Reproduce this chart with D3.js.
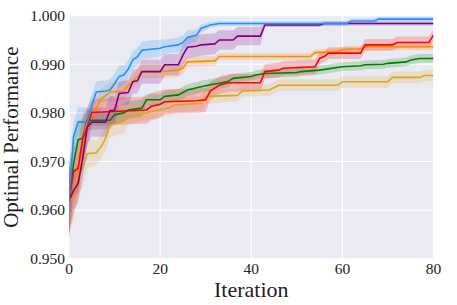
<!DOCTYPE html>
<html>
<head>
<meta charset="utf-8">
<script src="https://cdn.jsdelivr.net/npm/d3@7.9.0/dist/d3.min.js"></script>
<style>
  body { margin: 0; background: #fff; }
  svg { display: block; }
</style>
</head>
<body>
<div id="chart"></div>
<script>
// each row: [iteration, mean, std] -- only the iterations where something changes
const blueRuns = [
  [0, .9620, .0060], [1, .9751, .0030], [2, .9781, .0030], [4, .9781, .0030], [5, .9816, .0022],
  [6, .9843, .0022], [8, .9845, .0022], [9, .9847, .0022], [10, .9860, .0022], [11, .9875, .0022],
  [12, .9878, .0020], [13, .9890, .0018], [14, .9909, .0018], [15, .9915, .0018], [16, .9929, .0018],
  [20, .9933, .0018], [21, .9936, .0015], [24, .9940, .0015], [25, .9945, .0015], [26, .9955, .0015],
  [28, .9960, .0012], [29, .9974, .0008], [31, .9981, .0006], [33, .9984, .0005], [61, .9984, .0005],
  [62, .9989, .0005], [67, .9989, .0005], [68, .9993, .0005], [80, .9993, .0005]
];
const purpleRuns = [
  [0, .9620, .0070], [1, .9640, .0040], [2, .9655, .0040], [3, .9705, .0040], [4, .9771, .0035],
  [5, .9781, .0030], [8, .9781, .0030], [9, .9805, .0030], [10, .9805, .0030], [11, .9840, .0025],
  [13, .9842, .0025], [14, .9864, .0025], [15, .9866, .0025], [16, .9885, .0025], [20, .9885, .0025],
  [21, .9899, .0022], [24, .9899, .0022], [25, .9919, .0022], [26, .9935, .0022], [28, .9937, .0022],
  [29, .9940, .0022], [32, .9942, .0022], [33, .9950, .0020], [36, .9950, .0020], [37, .9958, .0019],
  [42, .9958, .0019], [43, .9981, .0004], [55, .9981, .0004], [56, .9984, .0004], [80, .9984, .0004]
];
const orangeRuns = [
  [0, .9620, .0060], [1, .9625, .0040], [2, .9670, .0040], [3, .9745, .0040], [4, .9780, .0030],
  [5, .9795, .0020], [6, .9810, .0020], [7, .9829, .0020], [8, .9835, .0020], [9, .9843, .0020],
  [12, .9845, .0018], [13, .9857, .0014], [14, .9864, .0014], [15, .9875, .0014], [16, .9885, .0014],
  [20, .9885, .0014], [24, .9888, .0014], [25, .9892, .0012], [26, .9905, .0010], [32, .9907, .0010],
  [33, .9916, .0007], [53, .9916, .0007], [54, .9924, .0007], [59, .9926, .0007], [60, .9930, .0007],
  [64, .9932, .0007], [65, .9936, .0007], [80, .9936, .0007]
];
const redRuns = [
  [0, .9620, .0080], [1, .9680, .0050], [2, .9685, .0050], [3, .9747, .0050], [4, .9771, .0040],
  [5, .9801, .0028], [17, .9806, .0028], [18, .9813, .0028], [20, .9818, .0028], [21, .9823, .0025],
  [28, .9825, .0025], [30, .9827, .0025], [31, .9845, .0018], [32, .9851, .0018], [33, .9857, .0018],
  [35, .9862, .0018], [42, .9862, .0018], [43, .9885, .0015], [46, .9888, .0015], [47, .9892, .0015],
  [54, .9895, .0015], [55, .9912, .0012], [56, .9916, .0012], [57, .9923, .0012], [64, .9923, .0012],
  [65, .9940, .0012], [71, .9940, .0012], [72, .9945, .0012], [79, .9945, .0012], [80, .9960, .0012]
];
const greenRuns = [
  [0, .9620, .0070], [1, .9695, .0040], [2, .9745, .0040], [3, .9748, .0040], [4, .9785, .0020],
  [9, .9785, .0018], [10, .9796, .0018], [12, .9800, .0018], [13, .9806, .0018], [16, .9810, .0018],
  [17, .9827, .0012], [20, .9827, .0012], [21, .9834, .0012], [24, .9837, .0012], [26, .9847, .0012],
  [29, .9854, .0012], [31, .9858, .0012], [33, .9861, .0012], [35, .9865, .0012], [36, .9871, .0009],
  [40, .9875, .0009], [41, .9878, .0009], [43, .9881, .0009], [50, .9883, .0009], [51, .9885, .0009],
  [55, .9888, .0009], [60, .9895, .0009], [64, .9897, .0009], [65, .9899, .0009], [69, .9900, .0009],
  [70, .9902, .0009], [74, .9905, .0009], [75, .9909, .0009], [77, .9912, .0009], [80, .9912, .0009]
];
const goldRuns = [
  [0, .9620, .0070], [1, .9625, .0040], [2, .9675, .0040], [3, .9685, .0040], [4, .9716, .0030],
  [6, .9718, .0025], [7, .9730, .0025], [8, .9747, .0025], [9, .9775, .0025], [12, .9783, .0025],
  [13, .9792, .0015], [17, .9800, .0015], [18, .9803, .0015], [22, .9810, .0015], [23, .9816, .0015],
  [29, .9820, .0015], [30, .9834, .0015], [37, .9836, .0012], [38, .9845, .0012], [44, .9847, .0012],
  [45, .9852, .0012], [46, .9857, .0012], [59, .9857, .0012], [60, .9864, .0012], [70, .9864, .0012],
  [71, .9873, .0012], [77, .9873, .0012], [78, .9877, .0012], [80, .9877, .0012]
];

const seriesList = [
  { runs: goldRuns, color: '#DAA520' },
  { runs: greenRuns, color: '#008000' },
  { runs: orangeRuns, color: '#FF8C00' },
  { runs: redRuns, color: '#FF0000' },
  { runs: purpleRuns, color: '#800080' },
  { runs: blueRuns, color: '#1E90FF' }
];

const xTicks = [0, 20, 40, 60, 80];
const yTicks = [0.950, 0.960, 0.970, 0.980, 0.990, 1.000];

const width = 457, height = 305;
const margin = { top: 15.7, right: 23.5, bottom: 46.3, left: 69 };

const svg = d3.select('#chart').append('svg')
    .attr('width', width)
    .attr('height', height);

const x = d3.scaleLinear().domain([0, 80]).range([margin.left, width - margin.right]);
const y = d3.scaleLinear().domain([0.950, 1.000]).range([height - margin.bottom, margin.top]);

// seaborn-ish background
svg.append('rect')
    .attr('x', x(0)).attr('y', y(1.0))
    .attr('width', x(80) - x(0)).attr('height', y(0.95) - y(1.0))
    .attr('fill', '#EAEAF2');

const grid = svg.append('g');
grid.selectAll('.gx').data(xTicks).join('line')
    .attr('x1', d => x(d)).attr('x2', d => x(d))
    .attr('y1', y(0.95)).attr('y2', y(1.0))
    .attr('stroke', '#fff').attr('stroke-width', 1.1);
grid.selectAll('.gy').data(yTicks).join('line')
    .attr('y1', d => y(d)).attr('y2', d => y(d))
    .attr('x1', x(0)).attr('x2', x(80))
    .attr('stroke', '#fff').attr('stroke-width', 1.1);

svg.append('clipPath').attr('id', 'plotclip')
  .append('rect')
    .attr('x', x(0)).attr('y', y(1.0))
    .attr('width', x(80) - x(0)).attr('height', y(0.95) - y(1.0));

const plot = svg.append('g').attr('clip-path', 'url(#plotclip)');

const band = d3.area()
    .x(d => x(d[0]))
    .y0(d => y(d[1] - d[2]))
    .y1(d => y(d[1] + d[2]));

const line = d3.line()
    .x(d => x(d[0]))
    .y(d => y(d[1]));

seriesList.forEach(s => {
  plot.append('path')
      .datum(s.runs)
      .attr('d', band)
      .attr('fill', s.color)
      .attr('fill-opacity', 0.2);
});

seriesList.forEach(s => {
  plot.append('path')
      .datum(s.runs)
      .attr('d', line)
      .attr('fill', 'none')
      .attr('stroke', s.color)
      .attr('stroke-width', 1.6);
});

const font = '"Liberation Serif", "Times New Roman", Times, serif';

// y tick labels
svg.append('g').selectAll('text').data(yTicks).join('text')
    .attr('x', x(0) - 4)
    .attr('y', d => y(d))
    .attr('dy', '0.34em')
    .attr('text-anchor', 'end')
    .attr('font-family', font)
    .attr('font-size', 15.5)
    .attr('fill', '#222')
    .text(d => d3.format('.3f')(d));

// x tick labels
svg.append('g').selectAll('text').data(xTicks).join('text')
    .attr('x', d => x(d))
    .attr('y', 274)
    .attr('text-anchor', 'middle')
    .attr('font-family', font)
    .attr('font-size', 15.5)
    .attr('fill', '#222')
    .text(d => d);

svg.append('text')
    .attr('x', (x(0) + x(80)) / 2)
    .attr('y', 297)
    .attr('text-anchor', 'middle')
    .attr('font-family', font)
    .attr('font-size', 22)
    .attr('fill', '#222')
    .text('Iteration');

svg.append('text')
    .attr('transform', `translate(18,${(y(0.95) + y(1.0)) / 2}) rotate(-90)`)
    .attr('text-anchor', 'middle')
    .attr('font-family', font)
    .attr('font-size', 21)
    .attr('fill', '#222')
    .text('Optimal Performance');
</script>
</body>
</html>
